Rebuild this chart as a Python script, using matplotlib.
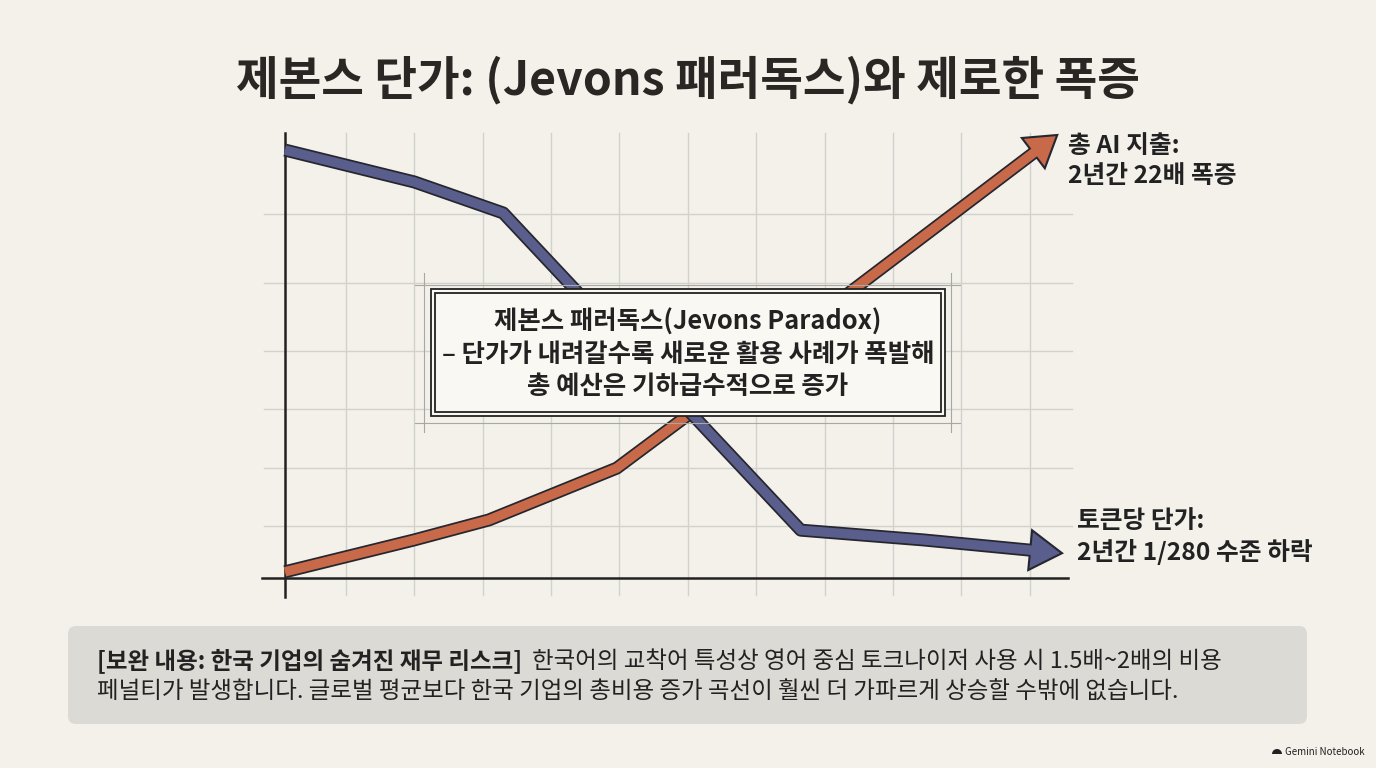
import numpy as np
import matplotlib.pyplot as plt
from matplotlib.patches import Polygon, Rectangle, FancyBboxPatch, Wedge
from matplotlib.transforms import ScaledTranslation

plt.rcParams['font.family'] = ['Noto Sans CJK KR', 'DejaVu Sans']

# chart values (x: time in grid columns, y: relative level 0-100)
price_x = [0.0, 1.89, 3.19, 7.54, 9.33, 11.36]
price_y = [96.6, 89.4, 82.4, 10.8, 8.6, 5.6]
spend_x = [0.0, 1.89, 2.98, 4.85, 5.85, 11.29]
spend_y = [1.4, 8.6, 13.1, 24.8, 36.3, 100.0]

grid_x = [0.89, 1.89, 2.89, 3.89, 4.89, 5.89, 6.89, 7.89, 8.89, 9.89, 10.89]
grid_y = [11.7, 24.8, 38.1, 51.2, 66.6, 82.2]

title = '제본스 단가: (Jevons 패러독스)와 제로한 폭증'
box_text = ['제본스 패러독스(Jevons Paradox)',
            '– 단가가 내려갈수록 새로운 활용 사례가 폭발해',
            '총 예산은 기하급수적으로 증가']
spend_label = ['총 AI 지출:', '2년간 22배 폭증']
price_label = ['토큰당 단가:', '2년간 1/280 수준 하락']
note_bold = '[보완 내용: 한국 기업의 숨겨진 재무 리스크]'
note_1 = '한국어의 교착어 특성상 영어 중심 토크나이저 사용 시 1.5배~2배의 비용'
note_2 = '페널티가 발생합니다. 글로벌 평균보다 한국 기업의 총비용 증가 곡선이 훨씬 더 가파르게 상승할 수밖에 없습니다.'

BG = '#f3f1ea'
EDGE = '#26262e'
BLUE = '#5a5e8d'
ORANGE = '#c86a49'
GRID = '#d2d1cc'
INK = '#222222'

W, H = 1376, 768
fig = plt.figure(figsize=(W / 100, H / 100), dpi=100, facecolor=BG)

# chart axes: 68.4 px per x unit, 4.43 px per y unit, origin at pixel (285, 578)
x0, y0, sx, sy = 285, 578, 68.4, 4.43
L, R, T, B = 250, 1080, 125, 605
ax = fig.add_axes([L / W, 1 - B / H, (R - L) / W, (B - T) / H])
ax.set_xlim((L - x0) / sx, (R - x0) / sx)
ax.set_ylim((y0 - B) / sy, (y0 - T) / sy)
ax.axis('off')

for gx in grid_x:
    ax.plot([gx, gx], [-3.8, 100.5], color=GRID, lw=1, zorder=1)
for gy in grid_y:
    ax.plot([-0.3, 11.5], [gy, gy], color=GRID, lw=1, zorder=1)
ax.plot([0, 0], [-4.3, 100.5], color=INK, lw=1.8, zorder=2)
ax.plot([-0.34, 11.45], [0, 0], color=INK, lw=1.8, zorder=2)


def arrow_line(xs, ys, color, z, head_len=32, head_half=20, band=13, inner=9.5):
    pts = ax.transData.transform(np.column_stack([xs, ys]))
    tip, prev = pts[-1], pts[-2]
    d = (tip - prev) / np.linalg.norm(tip - prev)
    n = np.array([-d[1], d[0]])
    end = tip - (head_len - 5) * d
    line = ax.transData.inverted().transform(np.vstack([pts[:-1], end]))
    ax.plot(line[:, 0], line[:, 1], color=EDGE, lw=band * 0.72,
            solid_joinstyle='round', solid_capstyle='butt', zorder=z)
    tri = np.array([[0, 0], -head_len * d + head_half * n,
                    -head_len * d - head_half * n]) / fig.dpi
    trans = fig.dpi_scale_trans + ScaledTranslation(xs[-1], ys[-1], ax.transData)
    ax.add_patch(Polygon(tri, closed=True, facecolor=color, edgecolor=EDGE,
                         lw=1.5, transform=trans, zorder=z + 0.1))
    ax.plot(line[:, 0], line[:, 1], color=color, lw=inner * 0.72,
            solid_joinstyle='round', solid_capstyle='butt', zorder=z + 0.2)


arrow_line(spend_x, spend_y, ORANGE, 3, head_len=30, head_half=19)
arrow_line(price_x, price_y, BLUE, 4)

# overlay in pixel units for annotations
ov = fig.add_axes([0, 0, 1, 1])
ov.set_xlim(0, W)
ov.set_ylim(H, 0)
ov.axis('off')
ov.set_zorder(2)

ov.text(688, 80, title, ha='center', va='center', fontsize=33.4,
        fontweight='heavy', color='#2a2623')

# central callout with double border and construction lines
for xx in [424, 951]:
    ov.plot([xx, xx], [273, 432], color='#a8a7a2', lw=0.8)
for yy in [285, 423]:
    ov.plot([415, 960], [yy, yy], color='#a8a7a2', lw=0.8)
ov.add_patch(Rectangle((431, 289), 514, 127, facecolor='#faf8f2',
                       edgecolor=INK, lw=1.3))
ov.add_patch(Rectangle((435, 293), 506, 119, facecolor='none',
                       edgecolor=INK, lw=1.3))
ov.text(688, 354, '\n'.join(box_text), ha='center', va='center',
        fontsize=18.3, fontweight='bold', color=INK, linespacing=1.25)

ov.text(1068, 161, '\n'.join(spend_label), ha='left', va='center',
        fontsize=17.8, fontweight='bold', color=INK, linespacing=1.3)
ov.text(1077, 537, '\n'.join(price_label), ha='left', va='center',
        fontsize=17.8, fontweight='bold', color=INK, linespacing=1.3)

# bottom note
ov.add_patch(FancyBboxPatch((68, 626), 1239, 98,
                            boxstyle='round,pad=0,rounding_size=8',
                            facecolor='#dcdad4', edgecolor='none'))
tb = ov.text(97, 661, note_bold, ha='left', va='center', fontsize=16.9,
             fontweight='bold', color=INK)
fig.canvas.draw()
bb = tb.get_window_extent()
xr = ov.transData.inverted().transform([[bb.x1, bb.y1]])[0][0]
ov.text(xr + 10, 661, note_1, ha='left', va='center', fontsize=16.9, color=INK)
ov.text(97, 692, note_2, ha='left', va='center', fontsize=16.9, color=INK)

# watermark
ov.add_patch(Wedge((1277, 754), 5, 180, 360, facecolor='#222222'))
ov.text(1285, 752, 'Gemini Notebook', ha='left', va='center', fontsize=7,
        color='#222222')

fig.savefig('out.png', dpi=100, facecolor=BG)
